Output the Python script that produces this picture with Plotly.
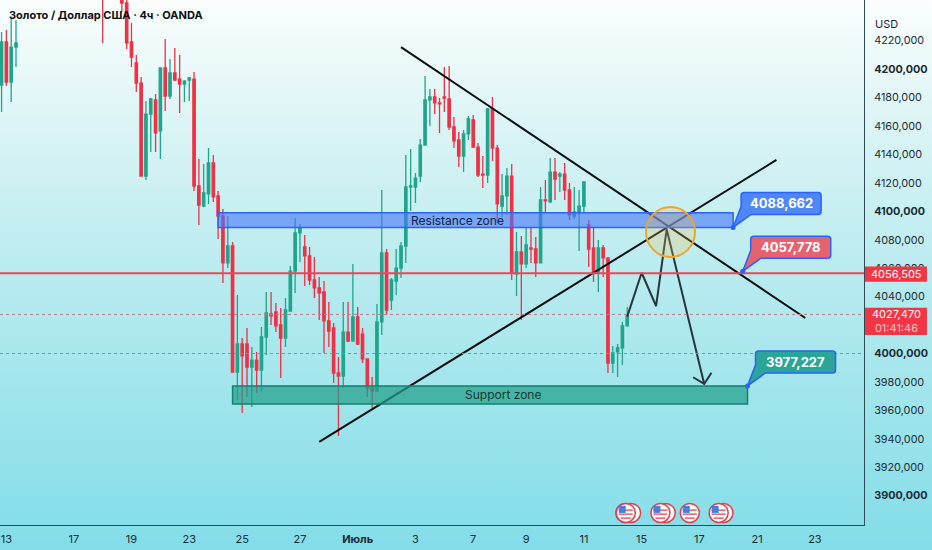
import base64
import plotly.graph_objects as go

# bars that are on screen, x is the bar number (4h bars, gaps = bars above the visible range)
bar_index = [0, 1, 2, 3, 21] + list(range(25, 131))
opens = [4188.8, 4219.1, 4190.9, 4215.5, 4262, 4252, 4246.5, 4219.1, 4204.3, 4190.2, 4124.8, 4168.4, 4178.3, 4156.5,
         4200.8, 4181.1, 4197.3, 4193, 4189.5, 4192.3, 4193, 4117.8, 4103.7, 4112.2, 4134, 4110.8, 4096.7, 4063.7,
         4075.6, 3987, 4006.7, 4006.7, 3990.5, 3995.4, 3988.4, 4011.6, 4027.8, 4029.2, 4020.1, 4010.9, 4029.9, 4058,
         4084.8, 4074.9, 4068.6, 4051.7, 4046.1, 4043.3, 4022.9, 4018, 3986.3, 3984.2, 4015.1, 4008.8, 4025.7, 4013.7,
         3996.2, 3975.8, 3973.6, 4022.2, 4070.7, 4037.6, 4051, 4060.1, 4075.6, 4117.1, 4117.1, 4124.8, 4146.6, 4178.3,
         4180.4, 4176.2, 4180.4, 4179, 4159.3, 4150.2, 4138.9, 4154.4, 4164.2, 4145.2, 4126.2, 4125.5, 4172, 4144.5,
         4103.7, 4110.8, 4124.8, 4055.9, 4071.4, 4063, 4074.2, 4073.5, 4063.7, 4108, 4106.6, 4127.6, 4124.8, 4126.2,
         4115, 4096.7, 4099.5, 4103.7, 4090.4, 4074.2, 4057.3, 4074.2, 4067.2, 3993.3, 4001.1, 4003.9, 4019.4]
highs = [4226.1, 4227.5, 4235.9, 4234.5, 4270, 4258, 4250, 4232.4, 4209.9, 4194.5, 4177.6, 4179.7, 4182.5, 4200.8,
         4221.2, 4207.1, 4214.8, 4209.9, 4192.3, 4194.5, 4198, 4136.8, 4133.3, 4144.5, 4139.6, 4114.3, 4101.6, 4096.7,
         4078.4, 4041.2, 4010.9, 4018, 4004.6, 4001.1, 4018.7, 4043.3, 4043.3, 4035.5, 4032, 4039.1, 4061.5, 4095.3,
         4091.1, 4083.4, 4074.9, 4067.9, 4053.8, 4051, 4036.2, 4021.5, 3997.6, 4036.2, 4036.2, 4063, 4032.7, 4018,
         3996.2, 3983.5, 4034.8, 4115, 4073.5, 4053.1, 4073.5, 4078.4, 4139.6, 4143.8, 4126.9, 4150.9, 4195.2, 4186,
         4186, 4179.7, 4201.5, 4202.2, 4166.3, 4155.8, 4157.2, 4167, 4167.7, 4148.1, 4138.9, 4172.7, 4180.4, 4146.6,
         4126.2, 4130.5, 4133.3, 4085.5, 4082.6, 4088.3, 4089, 4081.9, 4117.1, 4122, 4137.5, 4137.5, 4127.6, 4134,
         4119.9, 4117.1, 4115, 4120.6, 4093.9, 4088.3, 4079.8, 4076.3, 4067.2, 4005.3, 4006.7, 4022.2, 4032.7]
lows = [4169.8, 4188.1, 4176.9, 4201.5, 4218.4, 4240.2, 4214.1, 4201.5, 4183.9, 4124.8, 4122, 4141.7, 4141.7, 4136.8,
        4170.5, 4179, 4191.6, 4169.1, 4176.9, 4177.6, 4114.3, 4090.4, 4103, 4105.2, 4106.6, 4080.5, 4049.6, 4060.1,
        3987, 3967.3, 3958.2, 3969.4, 3962.4, 3972.2, 3972.9, 3999, 4020.1, 4015.1, 3982.8, 4004.6, 4029.9, 4042.6,
        4064.4, 4047.5, 4048.2, 4039.1, 4023.6, 4000.4, 4004.6, 3979.3, 3942, 3975.8, 4008.1, 4008.8, 4006, 3993.3,
        3969.4, 3961.7, 3972.9, 4013, 4027.1, 4030.6, 4041.2, 4053.1, 4063.7, 4100.2, 4105.9, 4120.6, 4146.6, 4160,
        4168.4, 4155.1, 4169.8, 4157.2, 4144.5, 4131.2, 4127.6, 4150.2, 4144.5, 4124.1, 4116.4, 4119.9, 4135.4, 4091.8,
        4096, 4097.4, 4051.7, 4040.5, 4023.6, 4060.1, 4063.7, 4053.8, 4063.7, 4099.5, 4105.9, 4108, 4113.6, 4108,
        4093.9, 4094.6, 4072.1, 4098.8, 4060.8, 4050.3, 4043.3, 4053.8, 3986.3, 3986.3, 3983.5, 3991.9, 4019.4]
closes = [4219.1, 4190.9, 4215.5, 4218.4, 4255, 4246.5, 4218.4, 4208.5, 4190.2, 4124.8, 4168.4, 4179, 4155.1, 4200.8,
          4181.1, 4197.3, 4192.3, 4189.5, 4191.6, 4193.8, 4117.8, 4104.4, 4112.9, 4134, 4110.1, 4096.7, 4063.7, 4075.6,
          3987, 4006.7, 3998.3, 3990.5, 3995.4, 3988.4, 4011.6, 4028.5, 4026.4, 4019.4, 4010.9, 4030.6, 4058, 4084.8,
          4088.3, 4068.6, 4051.7, 4046.1, 4042.6, 4022.9, 4015.8, 3986.3, 3984.2, 4015.1, 4008.8, 4025.7, 4006.7, 3996.2,
          3975.8, 3973.6, 4022.2, 4070.7, 4030.6, 4051.7, 4060.1, 4075.6, 4117.1, 4117.8, 4123.4, 4146.6, 4178.3, 4180.4,
          4176.2, 4175.5, 4179.7, 4159.3, 4149.5, 4138.9, 4154.4, 4164.9, 4145.2, 4125.5, 4125.5, 4172, 4144.5, 4105.2,
          4110.8, 4124.8, 4056.6, 4071.4, 4063, 4076.3, 4073.5, 4063.7, 4108, 4107.3, 4127.6, 4122.7, 4126.2, 4115,
          4097.4, 4099.5, 4103.7, 4120.6, 4073.5, 4057.3, 4074.2, 4067.2, 3993.3, 4000.4, 4003.9, 4019.4, 4026.4]

# axis labels (4020 sits behind the last price tag in the picture)
x_tick_bars = [1, 15, 27, 39, 50, 62, 74, 86, 98, 109, 121, 133, 145, 157, 169]
x_tick_labels = ["13", "17", "19", "23", "25", "27", "<b>Июль</b>", "3", "7", "9", "11", "15", "17", "21", "23"]
y_ticks = [3900, 3920, 3940, 3960, 3980, 4000, 4040, 4060, 4080, 4100, 4120, 4140, 4160, 4180, 4200, 4220]
y_bold = [3900, 4000, 4100, 4200]

# drawn levels and lines
last_price = 4027.47
red_level = 4056.505
round_level = 4000
resistance_top = 4099
resistance_bottom = 4088.662
support_top = 3977.227
support_bottom = 3964.5
falling_x = [83, 167]
falling_y = [4215.5, 4025.0]
rising_x = [66, 161]
rising_y = [3937.8, 4136.1]
path_x = [130, 133, 136, 138.2, 146]
path_y = [4025.9, 4056.8, 4033.4, 4087.4, 3978.6]
head_x = [143.7, 146, 147.5]
head_y = [3983.3, 3978.6, 3986.5]
event_bars = [129.7, 136.9, 143, 149]
event_back_bars = [130.8, 129.6, 138, 150]

GREEN = "#1fa58b"
RED = "#f03044"
BLUE = "#2962ff"
TEXT = "#1c2b33"

fig = go.Figure()
fig.add_trace(go.Candlestick(
    x=bar_index, open=opens, high=highs, low=lows, close=closes,
    increasing=dict(line=dict(color=GREEN, width=1.3), fillcolor=GREEN),
    decreasing=dict(line=dict(color=RED, width=1.3), fillcolor=RED),
    whiskerwidth=0, hoverinfo="skip", showlegend=False,
))

for xs, ys in [(falling_x, falling_y), (rising_x, rising_y)]:
    fig.add_trace(go.Scatter(x=xs, y=ys, mode="lines", line=dict(color="#0b0f12", width=2),
                             hoverinfo="skip", showlegend=False))
for xs, ys in [(path_x, path_y), (head_x, head_y)]:
    fig.add_trace(go.Scatter(x=xs, y=ys, mode="lines", line=dict(color="#27353c", width=2),
                             hoverinfo="skip", showlegend=False))

# horizontal lines
fig.add_shape(type="line", xref="paper", x0=0, x1=1, y0=red_level, y1=red_level,
              line=dict(color="#e64a58", width=2), layer="above")
fig.add_shape(type="line", xref="paper", x0=0, x1=1, y0=last_price, y1=last_price,
              line=dict(color="#c2788c", width=1, dash="dot"), layer="above")
fig.add_shape(type="line", xref="paper", x0=0, x1=1, y0=round_level, y1=round_level,
              line=dict(color="#6f98a2", width=1, dash="dot"), layer="above")

# zones
fig.add_shape(type="rect", x0=45, x1=152, y0=resistance_bottom, y1=resistance_top,
              fillcolor="rgba(75,120,250,0.62)", line=dict(color=BLUE, width=1.5), layer="above")
fig.add_shape(type="rect", x0=48, x1=155, y0=support_bottom, y1=support_top,
              fillcolor="rgba(35,160,138,0.72)", line=dict(color="#14806c", width=1.5), layer="above")
fig.add_shape(type="circle", x0=133.9, x1=144.1, y0=4067.9, y1=4103,
              fillcolor="rgba(245,190,80,0.25)", line=dict(color="#eea52c", width=2), layer="above")


def callout_path(w=80, h=22, dx=8, dy=13, r=3):
    # rounded label with a tail going down to the anchor at 0,0
    return (f"M 0 0 L {dx} {dy + 8} L {dx} {dy + h - r} Q {dx} {dy + h} {dx + r} {dy + h} "
            f"L {dx + w - r} {dy + h} Q {dx + w} {dy + h} {dx + w} {dy + h - r} "
            f"L {dx + w} {dy + r} Q {dx + w} {dy} {dx + w - r} {dy} L {dx + 10} {dy} Z")


callouts = [(152, resistance_bottom, "4088,662", "#4f86f8"),
            (154, 4057.778, "4057,778", "#e5636f"),
            (155, support_top, "3977,227", "#2ba598")]
for cx, cy, label, colour in callouts:
    fig.add_shape(type="path", xref="x", yref="y", xsizemode="pixel", ysizemode="pixel",
                  xanchor=cx, yanchor=cy, path=callout_path(), fillcolor=colour,
                  line=dict(color=BLUE, width=1.5), layer="above")
    fig.add_shape(type="circle", xsizemode="pixel", ysizemode="pixel", xanchor=cx, yanchor=cy,
                  x0=-2.5, x1=2.5, y0=-2.5, y1=2.5, fillcolor=BLUE, line=dict(width=0), layer="above")
    fig.add_annotation(x=cx, y=cy, xshift=48, yshift=24, text=f"<b>{label}</b>", showarrow=False,
                       font=dict(family="Inter", size=13, color="white"))


def add_flag(bar, ring="#e0404c", plain=False):
    def px_shape(kind, x0, x1, y0, y1, fill, line=None):
        fig.add_shape(type=kind, xsizemode="pixel", ysizemode="pixel", xanchor=bar, yanchor=3887.9,
                      x0=x0, x1=x1, y0=y0, y1=y1, fillcolor=fill,
                      line=line or dict(width=0), layer="above")
    px_shape("circle", -9.5, 9.5, -9.5, 9.5, "white", dict(color=ring, width=1.5))
    if plain:
        return
    px_shape("rect", -7, 7, 2, 3.5, "#ee5a64")
    px_shape("rect", -7, 7, -2, -0.5, "#ee5a64")
    px_shape("rect", -5, 5, -6, -4.5, "#ee5a64")
    px_shape("rect", -7, 0, 0, 7, "#4a7fd8")


add_flag(event_back_bars[1], ring="#8a4fd0", plain=True)
add_flag(event_back_bars[0], plain=True)
add_flag(event_bars[0])
add_flag(event_back_bars[2], plain=True)
add_flag(event_bars[1])
add_flag(event_bars[2])
add_flag(event_back_bars[3], plain=True)
add_flag(event_bars[3])

# price tags on the axis
fig.add_shape(type="rect", xref="paper", x0=865 / 864, x1=927 / 864, y0=4050.5, y1=4061.1,
              fillcolor="#f23645", line=dict(width=0), layer="above")
fig.add_shape(type="rect", xref="paper", x0=865 / 864, x1=927 / 864, y0=4013, y1=4032.2,
              fillcolor="#f23645", line=dict(width=0), layer="above")
fig.add_annotation(xref="paper", x=896 / 864, xanchor="center", y=4055.8, text="4056,505", showarrow=False,
                   font=dict(family="Inter", size=11, color="white"))
fig.add_annotation(xref="paper", x=896 / 864, xanchor="center", y=4022.6, showarrow=False,
                   text="4027,470<br><span style='color:#fbc4c9'>01:41:46</span>",
                   font=dict(family="Inter", size=11, color="white"))

# texts
fig.add_annotation(x=94.8, y=4093.5, text="Resistance zone", showarrow=False,
                   font=dict(family="Inter", size=12, color="#10204a"))
fig.add_annotation(x=104.2, y=3971, text="Support zone", showarrow=False,
                   font=dict(family="Inter", size=12, color="#0d3a33"))
fig.add_annotation(xref="paper", yref="paper", x=7 / 864, y=1 - 15 / 525, xanchor="left", yanchor="middle",
                   text="<b>Золото / Доллар США · 4ч · OANDA</b>", showarrow=False,
                   font=dict(family="Inter", size=11, color="#0b0f12"))
fig.add_annotation(xref="paper", yref="paper", x=886 / 864, xanchor="center", y=1 - 15 / 525, text="USD",
                   showarrow=False, font=dict(family="Inter", size=11, color=TEXT))

gradient = ('<svg xmlns="http://www.w3.org/2000/svg" width="10" height="100" preserveAspectRatio="none">'
            '<defs><linearGradient id="g" x1="0" y1="0" x2="0" y2="1">'
            '<stop offset="0" stop-color="#fbfefe"/><stop offset="0.2" stop-color="#dff5f6"/>'
            '<stop offset="0.5" stop-color="#b8ebef"/><stop offset="1" stop-color="#82dde8"/>'
            '</linearGradient></defs><rect width="10" height="100" fill="url(#g)"/></svg>')
gradient_uri = "data:image/svg+xml;base64," + base64.b64encode(gradient.encode()).decode()

fig.update_layout(
    width=932, height=550,
    margin=dict(l=0, r=68, t=0, b=25),
    paper_bgcolor="rgba(0,0,0,0)", plot_bgcolor="rgba(0,0,0,0)",
    showlegend=False,
    images=[dict(source=gradient_uri, xref="paper", yref="paper", x=0, y=1, sizex=932 / 864, sizey=550 / 525,
                 xanchor="left", yanchor="top", sizing="stretch", layer="below")],
    xaxis=dict(range=[-0.324, 179.2], rangeslider=dict(visible=False), showgrid=False, zeroline=False,
               tickmode="array", tickvals=x_tick_bars, ticktext=x_tick_labels, ticks="",
               tickfont=dict(family="Inter", size=11, color=TEXT), ticklabelstandoff=4,
               showline=True, linecolor="#2e4a55", linewidth=1),
    yaxis=dict(range=[3879.4, 4248.6], side="right", showgrid=False, zeroline=False,
               tickmode="array", tickvals=y_ticks,
               ticktext=[f"<b>{v},000</b>" if v in y_bold else f"{v},000" for v in y_ticks], ticks="",
               tickfont=dict(family="Inter", size=10.8, color=TEXT), ticklabelstandoff=7,
               showline=True, linecolor="#2e4a55", linewidth=1),
)

fig.write_html("out.html", config=dict(displayModeBar=False), post_script="document.body.style.margin='0';")
